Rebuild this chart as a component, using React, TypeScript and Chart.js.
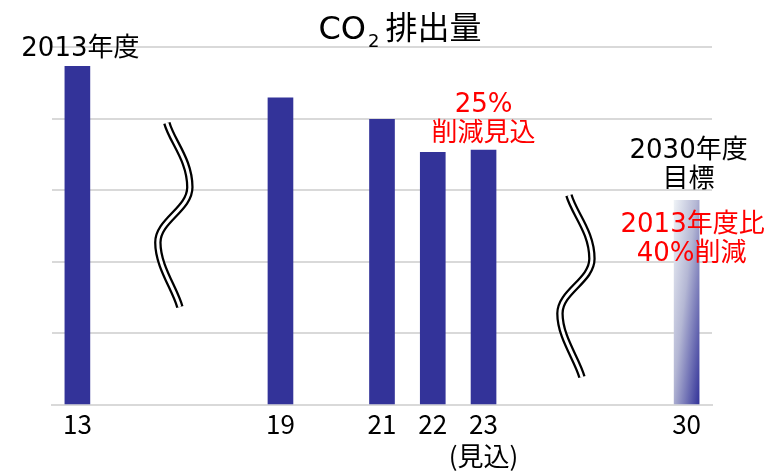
import React, { useEffect, useRef } from "react";
import { Chart, registerables } from "chart.js";

Chart.register(...registerables);

// Category slots (blank slots keep the uneven year spacing of the original)
const categories: string[] = ["13", "", "", "", "19", "", "21", "22", "23", "", "", "", "30"];
const tickLabels: (string | string[])[] = ["13", "", "", "", "19", "", "21", "22", ["23", "(見込)"], "", "", "", "30"];
// CO2 emissions (relative units, axis truncated)
const emissions: (number | null)[] = [4.73, null, null, null, 4.29, null, 3.99, 3.53, 3.56, null, null, null, 2.86];
const targetIndex = 12;

const FONT = '"DejaVu Sans", "Noto Sans CJK JP", sans-serif';
const TICK_FONT = '"Noto Sans CJK JP", sans-serif';
const BAR = "#333399";
const GRID = "#d9d9d9";

const breakPlugin = {
  id: "breaks",
  afterDatasetsDraw(chart: any) {
    const { ctx, scales } = chart;
    const xs = scales.x;
    const ys = scales.y;
    const breaks = [
      { at: 1.9, top: 3.94, bottom: 1.37 },
      { at: 9.82, top: 2.93, bottom: 0.39 },
    ];
    breaks.forEach((b) => {
      const cx = xs.getPixelForValue(b.at);
      const y0 = ys.getPixelForValue(b.top);
      const y1 = ys.getPixelForValue(b.bottom);
      const h = y1 - y0;
      const path = () => {
        ctx.beginPath();
        ctx.moveTo(cx - 7, y0);
        ctx.bezierCurveTo(cx - 2, y0 + 0.1 * h, cx + 16, y0 + 0.2 * h, cx + 16, y0 + 0.35 * h);
        ctx.bezierCurveTo(cx + 16, y0 + 0.47 * h, cx - 16, y0 + 0.53 * h, cx - 16, y0 + 0.65 * h);
        ctx.bezierCurveTo(cx - 16, y0 + 0.78 * h, cx + 1, y0 + 0.9 * h, cx + 6, y1);
      };
      ctx.save();
      ctx.lineCap = "butt";
      path();
      ctx.strokeStyle = "#000";
      ctx.lineWidth = 7.5;
      ctx.stroke();
      path();
      ctx.strokeStyle = "#fff";
      ctx.lineWidth = 3;
      ctx.stroke();
      ctx.restore();
    });
  },
};

const textPlugin = {
  id: "texts",
  afterDraw(chart: any) {
    const { ctx, scales } = chart;
    const xs = scales.x;
    ctx.save();
    ctx.textBaseline = "alphabetic";

    // Title CO2排出量
    ctx.fillStyle = "#000";
    ctx.textAlign = "left";
    ctx.font = `32px ${FONT}`;
    const wCO = ctx.measureText("CO").width;
    const wCJK = ctx.measureText("排出量").width;
    ctx.font = `18px ${FONT}`;
    const w2 = ctx.measureText("2").width;
    const total = wCO + 2 + w2 + 6 + wCJK;
    let x = 400 - total / 2;
    ctx.font = `32px ${FONT}`;
    ctx.fillText("CO", x, 39);
    x += wCO + 2;
    ctx.font = `18px ${FONT}`;
    ctx.fillText("2", x, 47);
    x += w2 + 6;
    ctx.font = `32px ${FONT}`;
    ctx.fillText("排出量", x, 39);

    ctx.textAlign = "center";
    ctx.font = `26px ${FONT}`;
    ctx.fillText("2013年度", xs.getPixelForValue(0) + 3, 56);

    const x30 = xs.getPixelForValue(targetIndex);
    ctx.fillText("2030年度", x30 + 2, 158);
    ctx.fillText("目標", x30 + 2, 187);

    ctx.fillStyle = "#ff0000";
    const x23 = xs.getPixelForValue(8);
    ctx.fillText("25%", x23, 112);
    ctx.fillText("削減見込", x23, 141);
    ctx.fillText("2013年度比", x30 + 6, 232);
    ctx.fillText("40%削減", x30 + 5, 261);
    ctx.restore();
  },
};

export default function App() {
  const ref = useRef<HTMLCanvasElement | null>(null);
  useEffect(() => {
    document.body.style.margin = "0";
    const canvas = ref.current;
    if (!canvas) return;
    const chart = new Chart(canvas, {
      type: "bar",
      data: {
        labels: tickLabels as any,
        datasets: [
          {
            label: "CO2排出量",
            data: emissions,
            barThickness: 25,
            borderWidth: 0,
            skipNull: true,
            backgroundColor: (c: any) => {
              if (c.dataIndex !== targetIndex) return BAR;
              const ch = c.chart;
              if (!ch.chartArea || !ch.scales.x) return BAR;
              const px = ch.scales.x.getPixelForValue(targetIndex);
              const top = ch.scales.y.getPixelForValue(emissions[targetIndex] as number);
              const bottom = ch.scales.y.getPixelForValue(0);
              const w = 25;
              const h = bottom - top;
              const k = (2 * w * h) / (h * h + w * w);
              const x0 = px - w / 2;
              const g = ch.ctx.createLinearGradient(x0, top, x0 + h * k, top + w * k);
              g.addColorStop(0, "#eef2f6");
              g.addColorStop(0.45, "#b4b7d4");
              g.addColorStop(1, "#333399");
              return g;
            },
          } as any,
        ],
      },
      options: {
        responsive: false,
        animation: false,
        layout: { padding: { left: 52, right: 55, top: 47, bottom: 0 } },
        plugins: {
          legend: { display: false },
          tooltip: { enabled: false },
          title: { display: false },
        },
        scales: {
          x: {
            type: "category",
            grid: { display: false, drawTicks: false },
            border: { display: true, color: GRID, width: 2 },
            ticks: {
              autoSkip: false,
              maxRotation: 0,
              padding: 3,
              color: "#000",
              font: { family: TICK_FONT, size: 26, lineHeight: 1.23 },
            },
            afterFit: (s: any) => {
              s.height = 67;
            },
          },
          y: {
            min: 0,
            max: 5,
            ticks: { display: false, stepSize: 1 },
            grid: { color: GRID, lineWidth: 2, drawTicks: false },
            border: { display: false },
          },
        },
      } as any,
      plugins: [breakPlugin, textPlugin],
    });
    return () => chart.destroy();
  }, []);
  return (
    <div style={{ width: 767, height: 472, background: "#fff" }}>
      <canvas ref={ref} width={767} height={472} />
    </div>
  );
}
